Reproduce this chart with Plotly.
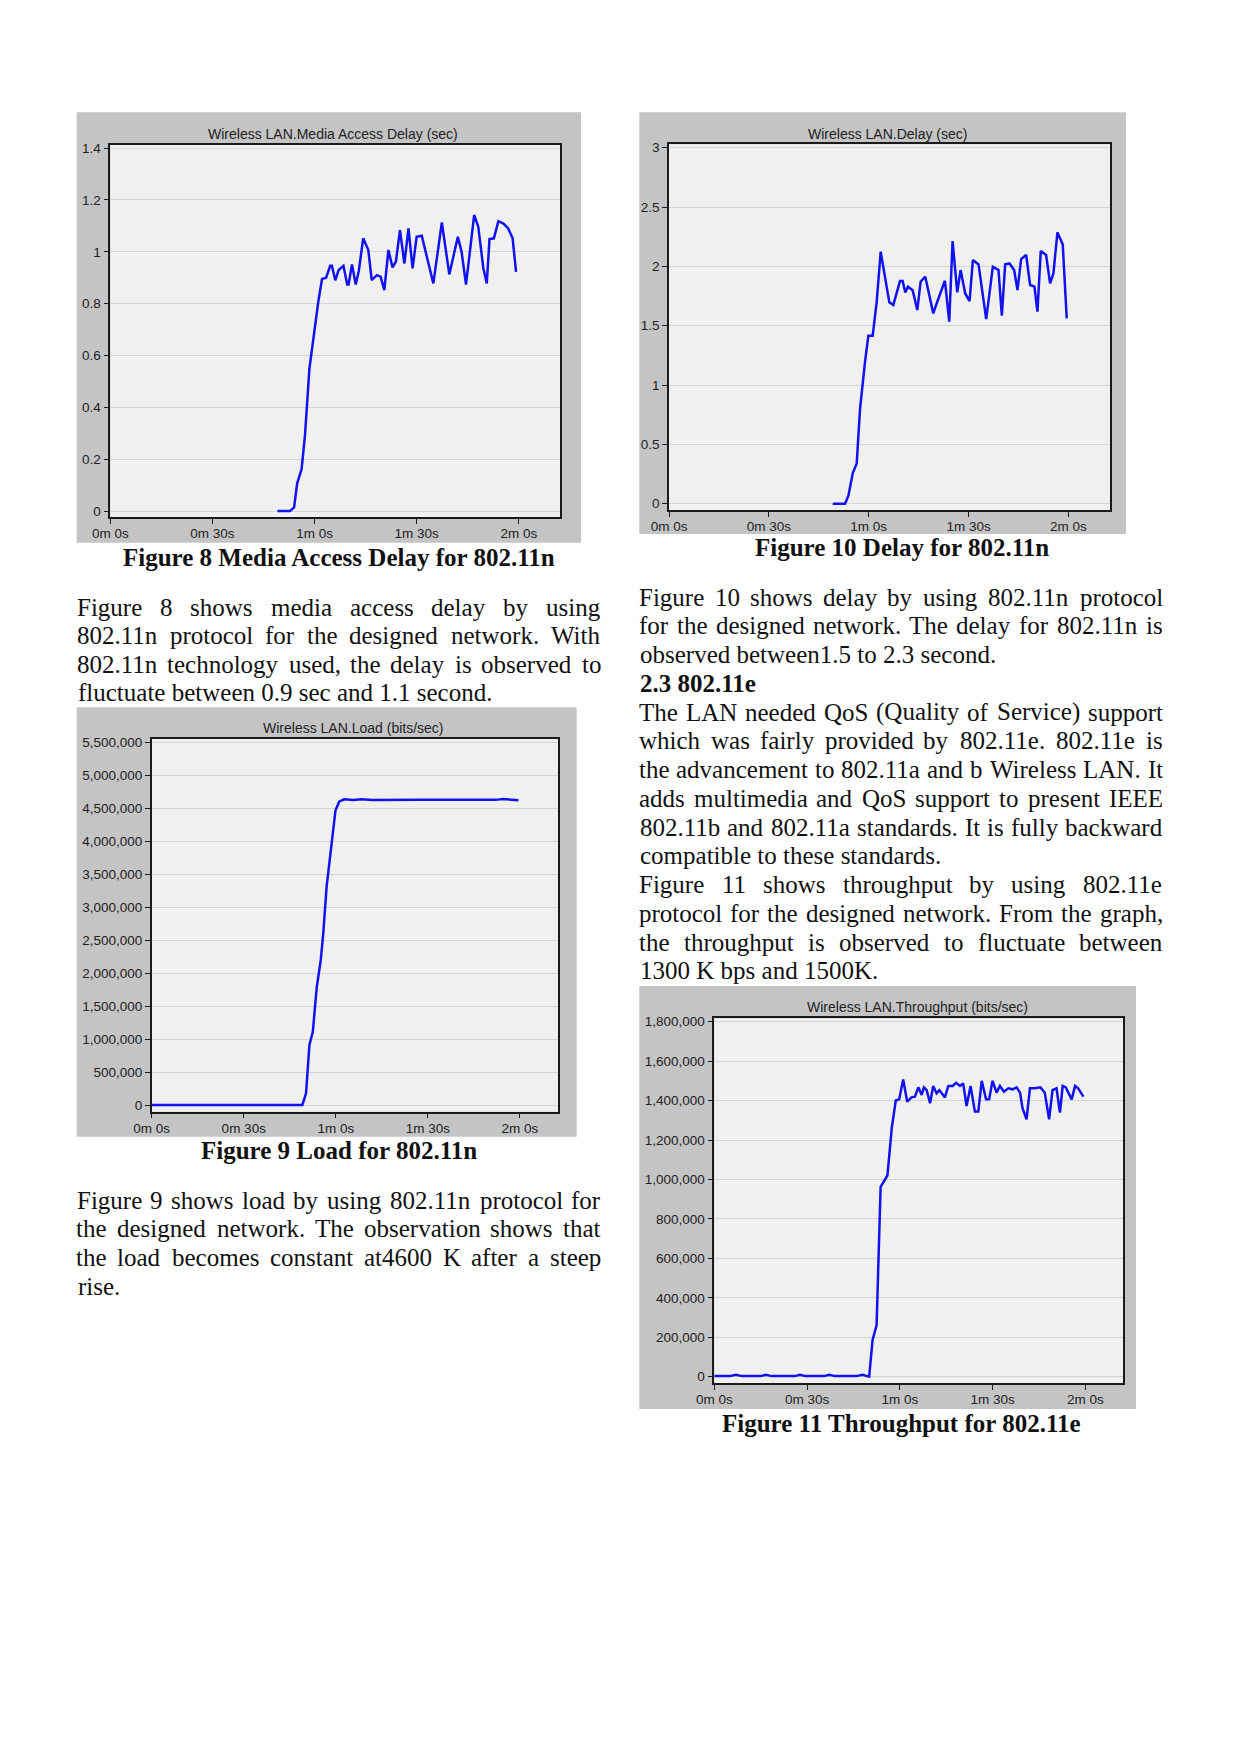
import plotly.graph_objects as go

W, H = 1241, 1754

# ---------------- data ----------------
x_tickvals = [0, 30, 60, 90, 120]
x_ticktext = ["0m 0s", "0m 30s", "1m 0s", "1m 30s", "2m 0s"]

# Figure 8: Media Access Delay (sec)
mad_t = [49.1, 52.8, 54.0, 54.9, 56.2, 57.2, 58.5, 59.8, 61.1, 62.2, 63.4, 64.6, 65.1, 66.1, 67.1,
         68.5, 69.6, 70.0, 71.0, 72.1, 73.0, 74.3, 75.8, 76.8, 78.3, 79.4, 80.5, 81.7, 82.9, 83.9,
         85.1, 86.4, 87.6, 88.8, 90.0, 91.5, 94.9, 97.4, 99.6, 102.1, 103.2, 104.5, 106.9, 108.1,
         109.6, 110.6, 111.4, 112.7, 114.0, 115.5, 116.9, 118.2, 119.2]
mad_v = [0.0, 0.0, 0.014, 0.107, 0.162, 0.293, 0.55, 0.68, 0.807, 0.895, 0.90, 0.946, 0.946, 0.89, 0.93,
         0.946, 0.874, 0.874, 0.951, 0.874, 0.926, 1.052, 1.007, 0.891, 0.91, 0.904, 0.852, 1.007, 0.94, 0.962,
         1.084, 0.955, 1.09, 0.936, 1.058, 1.062, 0.878, 1.113, 0.913, 1.058, 1.0, 0.874, 1.142, 1.097,
         0.936, 0.878, 1.049, 1.052, 1.118, 1.109, 1.09, 1.052, 0.923]

# Figure 10: Delay (sec)
dly_t = [49.2, 52.9, 53.9, 55.2, 56.4, 57.4, 58.9, 59.9, 61.2, 62.4, 63.6, 64.9, 66.2, 67.4, 69.4,
         70.2, 71.0, 71.8, 73.2, 74.6, 75.6, 77.0, 79.4, 80.6, 82.9, 84.2, 85.2, 86.6, 87.6, 89.0,
         90.3, 91.3, 93.0, 95.3, 97.3, 99.0, 100.0, 101.0, 102.3, 103.7, 104.7, 105.8, 107.3, 108.5,
         109.8, 110.7, 111.7, 113.3, 114.5, 115.5, 116.7, 118.3, 119.5]
dly_v = [0.0, 0.0, 0.067, 0.256, 0.34, 0.80, 1.197, 1.416, 1.416, 1.70, 2.124, 1.90, 1.697, 1.674, 1.876,
         1.876, 1.781, 1.829, 1.80, 1.632, 1.871, 1.913, 1.604, 1.702, 1.879, 1.534, 2.213, 1.781, 1.969, 1.772,
         1.708, 2.053, 2.017, 1.556, 1.997, 1.969, 1.584, 2.017, 2.025, 1.969, 1.80, 2.062, 2.096, 1.843,
         1.829, 1.618, 2.129, 2.096, 1.857, 1.941, 2.287, 2.185, 1.562]

# Figure 9: Load (bits/sec)
load_t = [0, 49.1, 50.3, 51.4, 52.5, 53.8, 55.1, 55.9, 57.0, 58.1, 58.8, 59.9, 61.1, 62.7, 65.7, 68.4,
          72, 76, 80, 84, 88, 92, 96, 100, 104, 108, 112, 114.5, 116, 118, 119.5]
load_v = [0, 0, 177e3, 910e3, 1.11e6, 1.79e6, 2.2e6, 2.6e6, 3.31e6, 3.72e6, 4.02e6, 4.47e6, 4.60e6,
          4.635e6, 4.625e6, 4.635e6, 4.625e6, 4.628e6, 4.632e6, 4.625e6, 4.627e6, 4.628e6, 4.63e6,
          4.626e6, 4.632e6, 4.628e6, 4.627e6, 4.64e6, 4.635e6, 4.625e6, 4.62e6]

# Figure 11: Throughput (bits/sec)
thr_t = [0, 5, 7, 9, 15, 16.7, 18.5, 26, 27.7, 29.5, 35.5, 37.2, 39, 46, 47.9, 49.5, 50.1,
         51.2, 52.5, 53.8, 56.0, 57.4, 58.7, 59.8, 61.1, 62.4, 63.8, 64.9, 66.0, 67.1, 67.8, 68.7,
         69.8, 70.8, 71.9, 72.8, 73.6, 74.6, 75.7, 77.1, 78.2, 79.5, 80.5, 81.6, 82.9, 84.3, 85.4,
         86.5, 87.9, 88.9, 90.0, 91.3, 92.4, 93.7, 95.1, 96.5, 97.8, 98.9, 99.7, 101.0, 102.1, 103.7,
         105.5, 106.9, 108.3, 109.4, 110.7, 111.8, 112.7, 113.7, 115.6, 116.7, 117.7, 119.4]
thr_v = [3e3, 3e3, 10e3, 3e3, 3e3, 10e3, 3e3, 3e3, 10e3, 3e3, 3e3, 10e3, 3e3, 3e3, 10e3, 3e3, 0,
         186e3, 262e3, 963e3, 1.02e6, 1.26e6, 1.40e6, 1.406e6, 1.507e6, 1.394e6, 1.416e6, 1.42e6, 1.467e6,
         1.428e6, 1.467e6, 1.453e6, 1.386e6, 1.474e6, 1.437e6, 1.453e6, 1.437e6, 1.416e6, 1.474e6, 1.474e6,
         1.49e6, 1.474e6, 1.487e6, 1.372e6, 1.474e6, 1.344e6, 1.344e6, 1.50e6, 1.406e6, 1.406e6, 1.50e6,
         1.44e6, 1.474e6, 1.445e6, 1.462e6, 1.457e6, 1.467e6, 1.44e6, 1.361e6, 1.305e6, 1.462e6, 1.462e6,
         1.467e6, 1.44e6, 1.305e6, 1.453e6, 1.462e6, 1.339e6, 1.474e6, 1.467e6, 1.406e6, 1.474e6, 1.462e6,
         1.42e6]

mad_ticks = [0, 0.2, 0.4, 0.6, 0.8, 1.0, 1.2, 1.4]
mad_ticktext = ["0", "0.2", "0.4", "0.6", "0.8", "1", "1.2", "1.4"]
dly_ticks = [0, 0.5, 1.0, 1.5, 2.0, 2.5, 3.0]
dly_ticktext = ["0", "0.5", "1", "1.5", "2", "2.5", "3"]
load_ticks = [i * 500000 for i in range(12)]
thr_ticks = [i * 200000 for i in range(10)]

# ---------------- text ----------------
left_p1 = [("Figure 8 shows media access delay by using", True),
           ("802.11n protocol for the designed network. With", True),
           ("802.11n technology used, the delay is observed to", True),
           ("fluctuate between 0.9 sec and 1.1 second.", False)]
left_p2 = [("Figure 9 shows load by using 802.11n protocol for", True),
           ("the designed network. The observation shows that", True),
           ("the load becomes constant at4600 K after a steep", True),
           ("rise.", False)]
right_lines = [("Figure 10 shows delay by using 802.11n protocol", True),
               ("for the designed network. The delay for 802.11n is", True),
               ("observed between1.5 to 2.3 second.", False),
               ("<b>2.3 802.11e</b>", False),
               ("The LAN needed QoS (Quality of Service) support", True),
               ("which was fairly provided by 802.11e. 802.11e is", True),
               ("the advancement to 802.11a and b Wireless LAN. It", True),
               ("adds multimedia and QoS support to present IEEE", True),
               ("802.11b and 802.11a standards. It is fully backward", True),
               ("compatible to these standards.", False),
               ("Figure 11 shows throughput by using 802.11e", True),
               ("protocol for the designed network. From the graph,", True),
               ("the throughput is observed to fluctuate between", True),
               ("1300 K bps and 1500K.", False)]

# ---------------- helpers ----------------
def xp(x):
    return x / W


def yp(y):
    return 1 - y / H


TW = {' ': 250, '(': 333, ')': 333, ',': 250, '.': 250, '-': 333, ':': 278,
      'A': 722, 'B': 667, 'C': 667, 'D': 722, 'E': 611, 'F': 556, 'G': 722, 'H': 722, 'I': 333,
      'J': 389, 'K': 722, 'L': 611, 'M': 889, 'N': 722, 'O': 722, 'P': 556, 'Q': 722, 'R': 667,
      'S': 556, 'T': 611, 'U': 722, 'V': 722, 'W': 944, 'X': 722, 'Y': 722, 'Z': 611,
      'a': 444, 'b': 500, 'c': 444, 'd': 500, 'e': 444, 'f': 333, 'g': 500, 'h': 500, 'i': 278,
      'j': 278, 'k': 500, 'l': 278, 'm': 778, 'n': 500, 'o': 500, 'p': 500, 'q': 500, 'r': 333,
      's': 389, 't': 278, 'u': 500, 'v': 500, 'w': 722, 'x': 500, 'y': 500, 'z': 444}


def tw(s, size):
    return sum(TW.get(c, 500) for c in s) * size / 1000.0


FS = 25
SERIF = "Liberation Serif"
annotations = []


def add_text(x, baseline, text, anchor="left", size=FS, family=SERIF, color="#111"):
    annotations.append(dict(
        x=xp(x), y=yp(baseline - 0.338 * size), xref="paper", yref="paper",
        text=text, showarrow=False, xanchor=anchor, yanchor="middle",
        borderpad=0, font=dict(family=family, size=size, color=color)))


def add_lines(lines, left, right, base0, step):
    for k, (line, just) in enumerate(lines):
        b = base0 + k * step
        if not just:
            add_text(left, b, line, "left")
            continue
        words = line.split(" ")
        widths = [tw(w, FS) for w in words]
        gap = (right - left - sum(widths)) / (len(words) - 1)
        x = left
        for w, wd in zip(words, widths):
            add_text(x + wd / 2, b, w, "center")
            x += wd + gap


add_lines(left_p1, 76.7, 600.8, 615.5, 28.6)
add_lines(left_p2, 76.7, 600.8, 1208.5, 28.7)
add_lines(right_lines, 639.3, 1162.8, 605.5, 28.75)

# captions
add_text(339, 566.0, "<b>Figure 8 Media Access Delay for 802.11n</b>", "center")
add_text(901.5, 555.5, "<b>Figure 10 Delay for 802.11n</b>", "center")
add_text(339, 1159.0, "<b>Figure 9 Load for 802.11n</b>", "center")
add_text(901.5, 1432.0, "<b>Figure 11 Throughput for 802.11e</b>", "center")

# ---------------- charts ----------------
charts = [
    dict(t=mad_t, v=mad_v, panel=(76.7, 112.3, 581.0, 542.7), plot=(110.3, 145.0, 560.3, 517.3),
         xr=[0, 132.2], yr=[-0.024, 1.412], yt=mad_ticks, ytt=mad_ticktext, fmt=None,
         title="Wireless LAN.Media Access Delay (sec)", tpos=(333, 134)),
    dict(t=dly_t, v=dly_v, panel=(639.3, 112.3, 1126.0, 534.0), plot=(669.0, 144.3, 1110.0, 510.0),
         xr=[0, 132.5], yr=[-0.053, 3.029], yt=dly_ticks, ytt=dly_ticktext, fmt=None,
         title="Wireless LAN.Delay (sec)", tpos=(887, 134)),
    dict(t=load_t, v=load_v, panel=(76.7, 707.3, 576.7, 1136.7), plot=(151.7, 739.0, 558.3, 1111.7),
         xr=[0, 132.5], yr=[-101600, 5550000], yt=load_ticks, ytt=None, fmt=",d",
         title="Wireless LAN.Load (bits/sec)", tpos=(354, 727.7)),
    dict(t=thr_t, v=thr_v, panel=(639.3, 986.0, 1136.0, 1409.0), plot=(714.3, 1018.3, 1123.3, 1383.3),
         xr=[0, 132.3], yr=[-33500, 1817000], yt=thr_ticks, ytt=None, fmt=",d",
         title="Wireless LAN.Throughput (bits/sec)", tpos=(917, 1007.3)),
]

fig = go.Figure()
shapes = []
layout = {}
TICKFONT = dict(family="Liberation Sans", size=13.5, color="#222222")

for i, c in enumerate(charts, start=1):
    sfx = "" if i == 1 else str(i)
    x0, y0, x1, y1 = c["panel"]
    shapes.append(dict(type="rect", xref="paper", yref="paper", x0=xp(x0), x1=xp(x1),
                       y0=yp(y1), y1=yp(y0), fillcolor="#c4c4c4", line=dict(width=0), layer="below"))
    px0, py0, px1, py1 = c["plot"]
    shapes.append(dict(type="rect", xref="paper", yref="paper", x0=xp(px0), x1=xp(px1),
                       y0=yp(py1), y1=yp(py0), fillcolor="#f0f0f0", line=dict(width=0), layer="below"))
    fig.add_trace(go.Scatter(x=c["t"], y=c["v"], mode="lines", xaxis="x" + sfx, yaxis="y" + sfx,
                             line=dict(color="rgb(18,18,240)", width=2.5), showlegend=False,
                             hoverinfo="skip"))
    layout["xaxis" + sfx] = dict(domain=[xp(px0), xp(px1)], range=c["xr"], anchor="y" + sfx,
                                 tickmode="array", tickvals=x_tickvals, ticktext=x_ticktext,
                                 showgrid=False, zeroline=False, showline=True, mirror=True,
                                 linecolor="#1a1a1a", linewidth=1.5, ticks="outside", ticklen=5,
                                 tickcolor="#1a1a1a", tickfont=TICKFONT, automargin=False,
                                 ticklabelstandoff=-2)
    yax = dict(domain=[yp(py1), yp(py0)], range=c["yr"], anchor="x" + sfx,
               tickmode="array", tickvals=c["yt"], showgrid=True, gridcolor="#d4d4d4", gridwidth=1.2,
               zeroline=False, showline=True, mirror=True, linecolor="#1a1a1a", linewidth=1.5,
               ticks="outside", ticklen=5, tickcolor="#1a1a1a", tickfont=TICKFONT, automargin=False)
    if c["ytt"] is not None:
        yax["ticktext"] = c["ytt"]
    if c["fmt"]:
        yax["tickformat"] = c["fmt"]
    layout["yaxis" + sfx] = yax
    annotations.append(dict(x=xp(c["tpos"][0]), y=yp(c["tpos"][1]), xref="paper", yref="paper",
                            text=c["title"], showarrow=False, xanchor="center", yanchor="middle",
                            font=dict(family="Liberation Sans", size=14, color="#222222")))

fig.update_layout(width=W, height=H, autosize=False,
                  margin=dict(l=0, r=0, t=0, b=0, pad=0, autoexpand=False),
                  paper_bgcolor="white", plot_bgcolor="#f0f0f0", shapes=shapes,
                  annotations=annotations, showlegend=False, **layout)

fig.write_html("out.html")
